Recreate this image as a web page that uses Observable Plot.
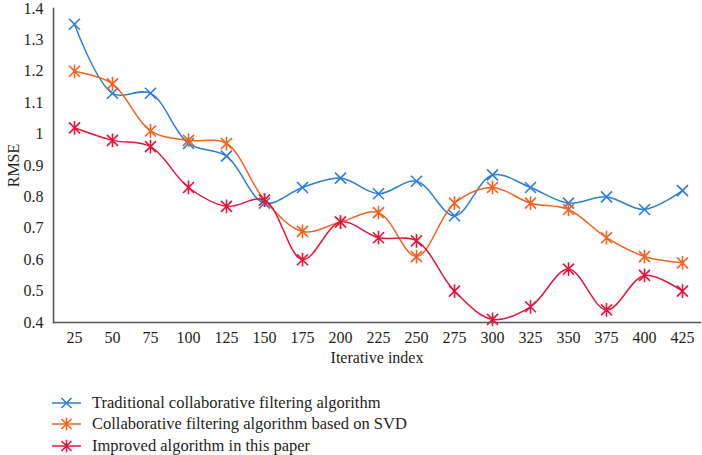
<!DOCTYPE html>
<html>
<head>
<meta charset="utf-8">
<script src="https://cdn.jsdelivr.net/npm/d3@7"></script>
<script src="https://cdn.jsdelivr.net/npm/@observablehq/plot@0.6"></script>
<style>
  body { margin: 0; background: #fff; font-family: "Liberation Serif", "DejaVu Serif", serif; color: #231f20; }
  #legend { padding-top: 17px; padding-left: 52px; font-size: 16.5px; }
  .row { display: flex; align-items: center; height: 21.5px; }
  .row svg { margin-right: 11px; }
</style>
</head>
<body>
<div id="chart"></div>
<div id="legend"></div>
<script>
const categories = [25, 50, 75, 100, 125, 150, 175, 200, 225, 250, 275, 300, 325, 350, 375, 400, 425];
const traditional = [1.35, 1.13, 1.13, 0.97, 0.93, 0.78, 0.83, 0.86, 0.81, 0.85, 0.74, 0.87, 0.83, 0.78, 0.80, 0.76, 0.82];
const svd = [1.20, 1.16, 1.01, 0.98, 0.97, 0.79, 0.69, 0.72, 0.75, 0.61, 0.78, 0.83, 0.78, 0.76, 0.67, 0.61, 0.59];
const improved = [1.02, 0.98, 0.96, 0.83, 0.77, 0.79, 0.60, 0.72, 0.67, 0.66, 0.50, 0.41, 0.45, 0.57, 0.44, 0.55, 0.50];
const seriesNames = ["Traditional collaborative filtering algorithm", "Collaborative filtering algorithm based on SVD", "Improved algorithm in this paper"];
const seriesColors = ["#2a7fd6", "#f2621f", "#e2163c"];
const yTicks = [0.4, 0.5, 0.6, 0.7, 0.8, 0.9, 1.0, 1.1, 1.2, 1.3, 1.4];

const cross = {draw(c, size) { const r = Math.sqrt(size / Math.PI); c.moveTo(-r, -r); c.lineTo(r, r); c.moveTo(-r, r); c.lineTo(r, -r); }};
const star = {draw(c, size) { const r = Math.sqrt(size / Math.PI); c.moveTo(-r, -r); c.lineTo(r, r); c.moveTo(-r, r); c.lineTo(r, -r); c.moveTo(0, -r * 1.25); c.lineTo(0, r * 1.25); }};
const symbols = [cross, star, star];

const allSeries = [traditional, svd, improved];
const rows = [];
allSeries.forEach((vals, s) => vals.forEach((v, i) => rows.push({x: categories[i], y: v, series: seriesNames[s]})));

const marks = [
  Plot.axisY(yTicks, {tickSize: 0, tickPadding: 10, fontSize: 16, tickFormat: d => d3.format("~g")(d), label: "RMSE", labelAnchor: "center", labelArrow: "none", labelOffset: 46}),
  Plot.axisX({tickSize: 0, tickPadding: 9, fontSize: 16, label: "Iterative index", labelAnchor: "center", labelArrow: "none", labelOffset: 40}),
  Plot.frame({anchor: "left", stroke: "#555", strokeWidth: 1.5}),
  Plot.frame({anchor: "bottom", stroke: "#555", strokeWidth: 1.5})
];
allSeries.forEach((vals, s) => {
  const data = rows.filter(r => r.series === seriesNames[s]);
  marks.push(Plot.line(data, {x: "x", y: "y", stroke: seriesColors[s], strokeWidth: 1.5, curve: "catmull-rom"}));
  marks.push(Plot.dot(data, {x: "x", y: "y", stroke: seriesColors[s], fill: "none", strokeWidth: 1.6, r: 5.5, symbol: symbols[s]}));
});

const chart = Plot.plot({
  width: 702,
  height: 375,
  marginLeft: 53,
  marginRight: 2,
  marginTop: 8,
  marginBottom: 53,
  style: {fontFamily: "Liberation Serif, DejaVu Serif, serif", fontSize: "16.5px", color: "#231f20", background: "#fff"},
  x: {type: "point", domain: categories, padding: 0, insetLeft: 19, insetRight: 17},
  y: {domain: [0.4, 1.4]},
  marks
});
document.getElementById("chart").appendChild(chart);

const legend = document.getElementById("legend");
seriesNames.forEach((name, s) => {
  const row = document.createElement("div");
  row.className = "row";
  const svg = d3.create("svg").attr("width", 29).attr("height", 14);
  svg.append("line").attr("x1", 0).attr("x2", 29).attr("y1", 7).attr("y2", 7).attr("stroke", seriesColors[s]).attr("stroke-width", 1.5);
  svg.append("path").attr("transform", "translate(14.5,7)").attr("d", d3.symbol(symbols[s], Math.PI * 25)()).attr("stroke", seriesColors[s]).attr("fill", "none").attr("stroke-width", 1.6);
  row.appendChild(svg.node());
  const span = document.createElement("span");
  span.textContent = name;
  row.appendChild(span);
  legend.appendChild(row);
});
</script>
</body>
</html>
